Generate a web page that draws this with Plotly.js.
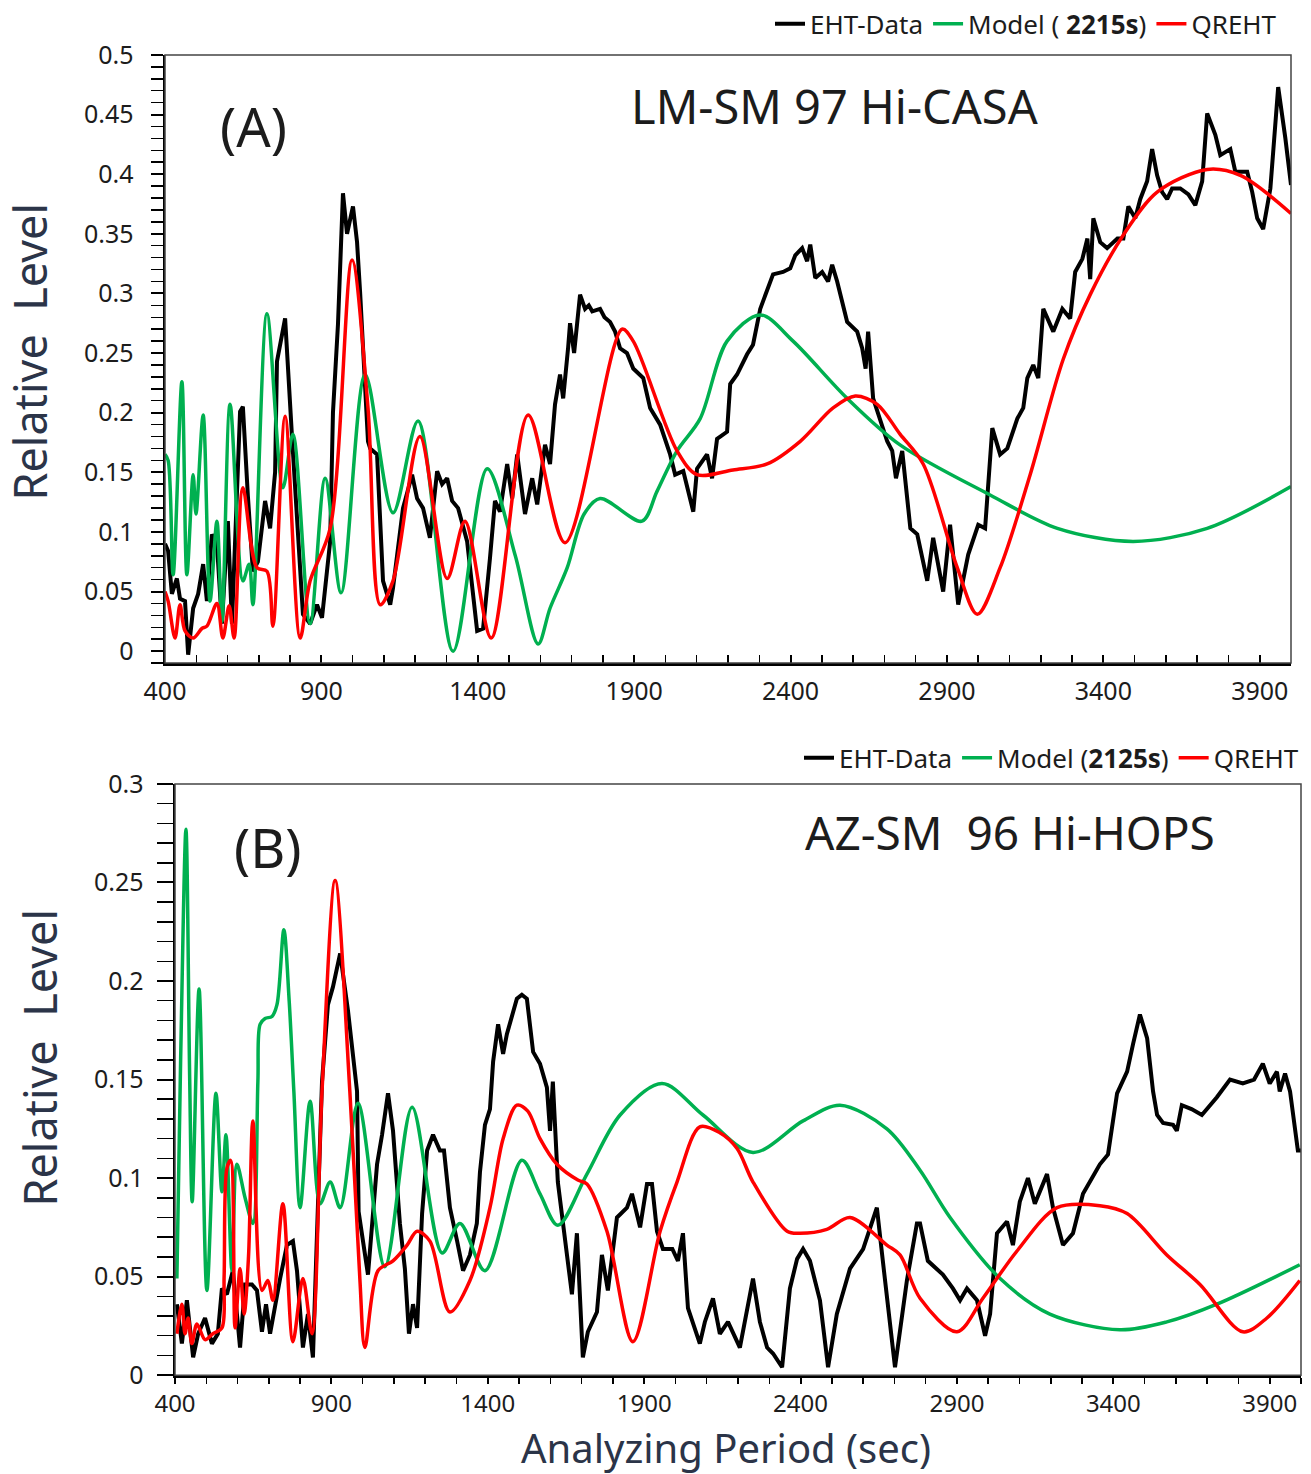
<!DOCTYPE html>
<html><head><meta charset="utf-8">
<script src="https://cdn.plot.ly/plotly-3.0.1.min.js"></script>
<style>html,body{margin:0;padding:0;background:#fff}#chart{width:1311px;height:1474px}</style>
</head><body><div id="chart"></div>
<script>
// ---------- Panel A : LM-SM 97 Hi-CASA ----------
const aEhtX = [400,410,422,438,448,464,474,490,506,522,534,550,566,582,601,614,640,649,665,681,697,720,736,752,758,784,806,825,841,864,886,902,928,937,953,969,982,1001,1014,1024,1033,1049,1056,1078,1097,1120,1129,1142,1161,1190,1206,1225,1247,1270,1286,1302,1318,1337,1366,1398,1417,1439,1455,1471,1494,1510,1526,1551,1574,1590,1615,1631,1647,1663,1673,1689,1695,1708,1727,1743,1755,1766,1791,1805,1823,1839,1855,1877,1897,1929,1951,1983,2015,2031,2057,2089,2101,2133,2149,2165,2197,2207,2229,2261,2280,2303,2325,2344,2376,2399,2415,2437,2453,2463,2479,2501,2520,2533,2549,2581,2613,2629,2640,2648,2664,2709,2725,2737,2757,2783,2805,2837,2856,2888,2910,2936,2968,3000,3022,3045,3070,3093,3125,3144,3157,3176,3192,3208,3240,3269,3294,3310,3333,3349,3358,3368,3390,3412,3445,3464,3480,3502,3518,3540,3556,3572,3588,3604,3620,3646,3672,3694,3716,3732,3758,3774,3806,3822,3860,3876,3892,3911,3934,3959,3982,4000];
const aEhtY = [0.09,0.084,0.048,0.061,0.044,0.042,-0.003,0.036,0.048,0.073,0.042,0.098,0.090,0.023,0.109,0.023,0.201,0.205,0.13,0.067,0.075,0.126,0.103,0.15,0.243,0.279,0.18,0.10,0.031,0.023,0.039,0.028,0.092,0.2,0.274,0.384,0.35,0.373,0.343,0.30,0.26,0.176,0.170,0.165,0.059,0.039,0.053,0.081,0.120,0.148,0.128,0.120,0.095,0.151,0.140,0.145,0.126,0.120,0.092,0.017,0.019,0.078,0.126,0.117,0.157,0.128,0.165,0.115,0.145,0.123,0.173,0.157,0.207,0.232,0.212,0.255,0.275,0.25,0.299,0.287,0.29,0.285,0.287,0.28,0.276,0.268,0.254,0.25,0.237,0.229,0.204,0.190,0.165,0.148,0.151,0.117,0.153,0.165,0.145,0.178,0.184,0.224,0.232,0.249,0.257,0.287,0.302,0.316,0.318,0.321,0.332,0.338,0.327,0.341,0.313,0.318,0.31,0.324,0.31,0.276,0.268,0.254,0.237,0.268,0.212,0.176,0.168,0.145,0.168,0.103,0.098,0.059,0.095,0.050,0.106,0.039,0.081,0.106,0.103,0.187,0.165,0.170,0.195,0.204,0.229,0.240,0.229,0.287,0.268,0.287,0.279,0.318,0.329,0.346,0.312,0.363,0.343,0.338,0.346,0.346,0.373,0.363,0.379,0.394,0.421,0.399,0.385,0.379,0.388,0.388,0.383,0.374,0.394,0.451,0.433,0.416,0.421,0.402,0.402,0.385,0.363,0.354,0.388,0.473,0.430,0.391];

const aModelX = [400,410,426,454,470,490,499,522,544,566,582,608,649,669,681,726,777,809,864,912,963,1040,1129,1209,1321,1430,1520,1593,1631,1686,1740,1791,1925,1973,2037,2111,2197,2303,2408,2581,2750,3038,3253,3496,3732,4000];
const aModelY = [0.165,0.16,0.064,0.226,0.064,0.148,0.115,0.198,0.042,0.109,0.025,0.207,0.059,0.073,0.039,0.283,0.137,0.182,0.023,0.145,0.049,0.232,0.116,0.193,0.0,0.153,0.08,0.006,0.036,0.07,0.115,0.128,0.109,0.134,0.168,0.195,0.26,0.282,0.26,0.212,0.173,0.131,0.103,0.092,0.103,0.138];

const aQrX = [400,410,432,448,464,490,518,534,566,585,605,621,649,694,726,745,784,832,864,928,998,1049,1088,1129,1215,1302,1359,1443,1561,1679,1861,1897,2037,2101,2216,2325,2431,2536,2607,2677,2750,2824,2933,2997,3070,3166,3272,3358,3464,3572,3732,3838,4000];
const aQrY = [0.05,0.042,0.011,0.039,0.017,0.011,0.019,0.021,0.040,0.011,0.038,0.011,0.137,0.070,0.067,0.021,0.197,0.011,0.059,0.103,0.328,0.204,0.039,0.059,0.180,0.061,0.109,0.011,0.198,0.091,0.27,0.26,0.168,0.148,0.152,0.157,0.176,0.204,0.214,0.207,0.182,0.157,0.070,0.031,0.070,0.148,0.245,0.299,0.349,0.385,0.404,0.399,0.367];

// ---------- Panel B : AZ-SM 96 Hi-HOPS ----------
const bEhtX = [406,422,438,458,474,496,518,537,550,566,585,608,624,646,662,678,691,704,736,758,777,790,809,825,841,870,889,905,928,953,982,987,1017,1046,1062,1081,1097,1119,1135,1148,1161,1174,1190,1206,1225,1247,1260,1279,1302,1321,1343,1365,1375,1391,1407,1417,1433,1449,1461,1493,1509,1525,1545,1567,1589,1599,1608,1624,1669,1685,1704,1720,1749,1765,1784,1813,1845,1861,1887,1909,1925,1941,1960,1990,2008,2024,2040,2078,2094,2120,2142,2168,2206,2248,2270,2293,2312,2341,2366,2389,2408,2430,2462,2488,2516,2558,2600,2644,2663,2702,2740,2772,2782,2807,2855,2887,2910,2932,2964,2990,3006,3028,3060,3079,3101,3127,3149,3188,3207,3239,3271,3303,3357,3383,3412,3444,3463,3485,3508,3527,3540,3559,3591,3603,3619,3650,3683,3731,3773,3814,3850,3878,3900,3923,3932,3949,3965,3974,3990,4000];
const bEhtY = [0.036,0.016,0.038,0.009,0.021,0.029,0.016,0.021,0.044,0.041,0.053,0.014,0.046,0.046,0.043,0.022,0.036,0.021,0.049,0.066,0.068,0.053,0.014,0.031,0.009,0.149,0.188,0.197,0.214,0.185,0.144,0.083,0.051,0.107,0.122,0.143,0.124,0.077,0.054,0.021,0.036,0.024,0.082,0.114,0.122,0.114,0.114,0.085,0.068,0.053,0.061,0.077,0.103,0.127,0.135,0.159,0.178,0.163,0.173,0.191,0.193,0.191,0.164,0.158,0.146,0.124,0.149,0.098,0.041,0.072,0.009,0.022,0.032,0.061,0.043,0.080,0.085,0.092,0.075,0.097,0.097,0.073,0.064,0.064,0.058,0.072,0.034,0.016,0.027,0.039,0.021,0.027,0.014,0.049,0.027,0.014,0.011,0.004,0.044,0.059,0.064,0.058,0.038,0.004,0.031,0.054,0.064,0.085,0.058,0.004,0.048,0.077,0.077,0.058,0.051,0.044,0.038,0.044,0.038,0.020,0.031,0.072,0.078,0.066,0.088,0.100,0.087,0.102,0.085,0.066,0.072,0.092,0.107,0.112,0.143,0.154,0.168,0.183,0.171,0.144,0.132,0.128,0.127,0.124,0.137,0.135,0.132,0.141,0.150,0.148,0.150,0.158,0.148,0.154,0.144,0.153,0.144,0.132,0.114,0.114];

const bModelX = [406,418,435,447,455,477,502,531,550,563,582,598,624,649,665,672,688,710,726,748,765,780,800,832,864,896,928,985,1071,1158,1254,1311,1391,1509,1567,1624,1717,1823,1957,2088,2248,2408,2526,2676,2782,2878,3038,3197,3421,3571,3731,3996];
const bModelY = [0.049,0.16,0.277,0.15,0.088,0.196,0.043,0.143,0.093,0.122,0.053,0.107,0.090,0.077,0.149,0.178,0.181,0.182,0.188,0.226,0.19,0.144,0.085,0.139,0.087,0.098,0.085,0.138,0.055,0.136,0.062,0.077,0.053,0.109,0.092,0.076,0.102,0.132,0.148,0.132,0.113,0.129,0.137,0.125,0.104,0.080,0.049,0.031,0.023,0.027,0.036,0.056];

const bQrX = [406,422,432,442,454,470,496,521,550,557,566,578,592,608,621,635,649,678,697,713,745,777,809,838,870,912,959,991,1007,1049,1097,1142,1174,1215,1279,1343,1407,1449,1493,1528,1567,1621,1688,1717,1781,1864,1951,2005,2078,2142,2197,2248,2357,2398,2484,2558,2676,2718,2782,2900,2983,3092,3220,3357,3444,3571,3677,3814,3891,3996];
const bQrY = [0.021,0.036,0.021,0.029,0.016,0.026,0.018,0.021,0.024,0.05,0.105,0.109,0.024,0.054,0.031,0.06,0.129,0.043,0.048,0.038,0.087,0.017,0.049,0.021,0.144,0.251,0.144,0.049,0.014,0.053,0.058,0.066,0.073,0.068,0.032,0.048,0.085,0.120,0.137,0.134,0.120,0.107,0.099,0.097,0.073,0.017,0.073,0.098,0.126,0.123,0.115,0.098,0.073,0.072,0.074,0.080,0.066,0.061,0.039,0.022,0.039,0.063,0.085,0.086,0.082,0.061,0.046,0.022,0.029,0.048];

const legendNames = ['EHT-Data', 'Model ( <b>2215s</b>)', 'QREHT'];
const legendNamesB = ['EHT-Data', 'Model (<b>2125s</b>)', 'QREHT'];
const panelLabels = ['(A)', '(B)'];
const panelTitles = ['LM-SM 97 Hi-CASA', 'AZ-SM  96 Hi-HOPS'];

// ---------- layout helpers (pixel positions -> paper) ----------
const W = 1311, H = 1474;
const PX = v => v / W, PY = v => 1 - v / H;
const FONT = '"Noto Sans", "Open Sans", sans-serif';
const TXT = '#1c1c1c';
const TITLE = '#2b3448';
const cBlack = '#000000', cGreen = '#00b050', cRed = '#ff0000';

function tr(x, y, name, color, width, shape, xa, ya, leg) {
  return {x: x, y: y, name: name, type: 'scatter', mode: 'lines',
    line: {color: color, width: width, shape: shape, smoothing: 0.9},
    xaxis: xa, yaxis: ya, legend: leg, hoverinfo: 'skip'};
}
const data = [
  tr(aEhtX, aEhtY, legendNames[0], cBlack, 4, 'linear', 'x', 'y', 'legend'),
  tr(aModelX, aModelY, legendNames[1], cGreen, 3.5, 'spline', 'x', 'y', 'legend'),
  tr(aQrX, aQrY, legendNames[2], cRed, 3.5, 'spline', 'x', 'y', 'legend'),
  tr(bEhtX, bEhtY, legendNamesB[0], cBlack, 4, 'linear', 'x2', 'y2', 'legend2'),
  tr(bModelX, bModelY, legendNamesB[1], cGreen, 3.5, 'spline', 'x2', 'y2', 'legend2'),
  tr(bQrX, bQrY, legendNamesB[2], cRed, 3.5, 'spline', 'x2', 'y2', 'legend2')
];

function xax(dom, anchor, tickdir, len, standoff, fs) {
  return {domain: dom, anchor: anchor, range: [400, 4000], tick0: 400, dtick: 500,
    ticks: tickdir, ticklen: len, tickwidth: 2, tickcolor: '#000',
    minor: {dtick: 100, ticks: tickdir, ticklen: len, tickwidth: 1.5, tickcolor: '#000', showgrid: false},
    showline: true, linewidth: 2.5, linecolor: '#000', showgrid: false, zeroline: false,
    tickfont: {family: FONT, size: fs, color: TXT}, ticklabelstandoff: standoff, fixedrange: true};
}
function yax(dom, anchor, range, len, standoff) {
  return {domain: dom, anchor: anchor, range: range, tick0: 0, dtick: 0.05,
    ticks: 'outside', ticklen: len, tickwidth: 2, tickcolor: '#000',
    minor: {dtick: 0.01, ticks: 'outside', ticklen: len, tickwidth: 1.5, tickcolor: '#000', showgrid: false},
    showline: true, linewidth: 2.5, linecolor: '#000', showgrid: false, zeroline: false,
    tickfont: {family: FONT, size: 25, color: TXT}, ticklabelstandoff: standoff, fixedrange: true};
}
function ann(x, y, text, size, color, extra) {
  return Object.assign({xref: 'paper', yref: 'paper', x: PX(x), y: PY(y), text: text,
    showarrow: false, xanchor: 'center', yanchor: 'middle',
    font: {family: FONT, size: size, color: color}}, extra || {});
}
function legend(xr, yc) {
  return {orientation: 'h', x: PX(xr), xanchor: 'right', y: PY(yc), yanchor: 'middle',
    font: {family: FONT, size: 26, color: TXT}, bgcolor: 'rgba(0,0,0,0)',
    itemwidth: 30, traceorder: 'normal', itemclick: false, itemdoubleclick: false};
}

const layout = {
  width: W, height: H, margin: {l: 0, r: 0, t: 0, b: 0},
  paper_bgcolor: '#fff', plot_bgcolor: '#fff', showlegend: true,
  xaxis: xax([PX(165), PX(1291)], 'y', 'inside', 8, 4, 25),
  yaxis: yax([PY(662), PY(53)], 'x', [-0.01, 0.5], 12, 12),
  xaxis2: xax([PX(175), PX(1301)], 'y2', 'outside', 6, 0, 24),
  yaxis2: yax([PY(1375), PY(783)], 'x2', [0, 0.3], 16, 8),
  legend: legend(1282, 22),
  legend2: legend(1304, 757),
  shapes: [
    {type: 'rect', xref: 'x domain', yref: 'y domain', x0: 0, x1: 1, y0: 0, y1: 1,
     line: {color: '#444', width: 1.5}, layer: 'above'},
    {type: 'rect', xref: 'x2 domain', yref: 'y2 domain', x0: 0, x1: 1, y0: 0, y1: 1,
     line: {color: '#444', width: 1.5}, layer: 'above'}
  ],
  annotations: [
    ann(253, 124, panelLabels[0], 54, TXT),
    ann(835, 104, panelTitles[0], 47, TXT),
    ann(268, 846, panelLabels[1], 54, TXT),
    ann(1010, 831, panelTitles[1], 46, TXT),
    ann(30, 350, 'Relative  Level', 45, TITLE, {textangle: -90}),
    ann(40, 1057, 'Relative  Level', 45, TITLE, {textangle: -90}),
    ann(726, 1447, 'Analyzing Period (sec)', 40, TITLE)
  ]
};

Plotly.newPlot('chart', data, layout, {staticPlot: true, displayModeBar: false});
</script></body></html>
